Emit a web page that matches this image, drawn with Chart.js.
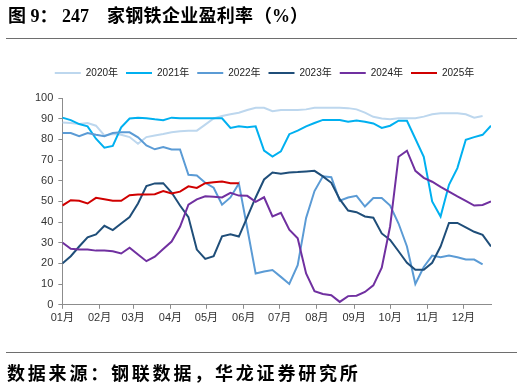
<!DOCTYPE html>
<html>
<head>
<meta charset="utf-8">
<script src="https://cdn.jsdelivr.net/npm/chart.js@4.4.1/dist/chart.umd.min.js"></script>
<style>
  html, body { margin: 0; padding: 0; background: #fff; }
  body { width: 527px; height: 392px; position: relative; overflow: hidden; }
  #title { position: absolute; left: 0; top: 6px; width: 527px; height: 22px; font: bold 18px "Liberation Serif", "Noto Sans CJK SC", serif; color: #000; white-space: pre; line-height: 20px; }
  #title span { position: absolute; top: 0; }
  .rule { position: absolute; left: 6px; width: 511px; height: 1.5px; background: #6e6e6e; }
  #footer { position: absolute; left: 7px; top: 361px; font: bold 18px "Noto Sans CJK SC", sans-serif; color: #000; letter-spacing: 2.8px; line-height: 22px; white-space: pre; }
  canvas { position: absolute; left: 0; top: 0; }
</style>
</head>
<body>
<canvas id="c" width="527" height="392"></canvas>
<div id="title"><span style="left:8px">图 9：</span><span style="left:62px">247 </span><span style="left:107px;letter-spacing:0.3px">家钢铁企业盈利率</span><span style="left:254px">（%）</span></div>
<div class="rule" style="top:37.5px"></div>
<div class="rule" style="top:351.5px"></div>
<div id="footer">数据来源：钢联数据，华龙证券研究所</div>
<script>
// x categories: day of year of each weekly observation
const days = [0,7,14,21,28,35,42,49,56,63,70,77,84,91,98,105,112,119,126,133,140,147,154,161,168,175,182,189,196,203,210,217,224,231,238,245,252,259,266,273,280,287,294,301,308,315,322,329,336,343,350,357];
// month tick positions (day of year) and labels
const monthDays = [0,31,59,90,120,151,181,212,243,273,304,334];
const monthLabels = ['01月','02月','03月','04月','05月','06月','07月','08月','09月','10月','11月','12月'];

const seriesNames = ['2020年','2021年','2022年','2023年','2024年','2025年'];
const colors = ['#BDD7EE','#00B0F0','#5B9BD5','#1F4E79','#7030A0','#D00000'];

const y2020 = [88.2,87.9,87.4,87.9,86.6,81.9,82.6,82.2,81.1,77.9,81.1,81.9,82.6,83.4,83.9,84.2,84.2,87.1,90.1,91.3,92.1,92.9,94.2,95.3,95.3,93.6,94.2,94.2,94.2,94.5,95.3,95.3,95.3,95.3,95.1,94.5,92.9,90.9,90.1,89.7,90.2,90.2,90.2,91.0,92.1,92.6,92.6,92.6,92.1,90.5,91.3];
const y2021 = [90.5,89.3,87.4,86.3,80.3,76.0,76.8,85.8,90.1,90.5,90.2,89.7,89.3,90.5,90.2,90.2,90.2,90.2,90.2,90.2,85.5,86.3,85.8,86.3,74.6,71.7,74.2,82.5,84.2,86.3,87.9,89.4,89.4,89.4,88.5,89.1,88.5,87.7,85.5,86.6,89.0,89.0,80.3,71.6,50.0,42.7,58.0,66.1,79.8,81.1,82.2,86.6];
const y2022 = [83.1,83.1,81.5,83.1,82.2,81.5,83.1,83.4,83.4,81.0,77.1,75.2,76.3,75.1,75.1,62.9,62.5,59.0,56.6,48.4,51.9,58.7,37.0,15.1,16.1,16.8,13.5,10.1,19.2,42.0,55.0,62.1,61.7,50.3,51.9,52.7,47.5,51.6,51.6,48.0,39.3,28.2,10.1,18.3,23.8,23.0,23.8,23.0,21.9,21.9,19.6];
const y2023 = [20.0,23.5,28.2,32.6,34.0,38.2,36.1,39.3,42.4,49.0,57.4,58.7,58.8,54.3,48.0,42.4,26.7,22.2,23.5,33.1,34.1,33.0,42.4,51.9,60.6,64.0,63.4,64.0,64.2,64.5,64.8,62.1,59.0,51.1,45.6,44.8,42.7,42.1,34.5,31.4,25.9,20.3,16.9,16.9,20.3,28.2,39.6,39.6,37.4,35.3,33.8,28.2];
const y2024 = [30.1,27.1,26.8,26.7,26.2,26.2,25.9,24.8,27.6,24.3,21.1,23.3,27.0,30.6,37.7,48.4,51.0,52.5,52.2,51.9,54.1,52.8,52.7,49.8,52.0,42.7,44.5,36.3,32.2,15.2,6.6,5.2,4.6,1.4,4.2,4.4,6.2,9.4,18.0,38.0,71.6,74.5,64.8,61.4,59.5,57.0,54.7,52.4,50.3,48.0,48.3,50.0];
const y2025 = [48.0,50.6,50.3,49.0,51.7,51.0,50.3,50.3,53.0,53.3,53.3,53.5,55.0,53.8,54.7,57.3,56.5,58.8,59.3,59.6,58.8,58.8];

const yTicks = [0,10,20,30,40,50,60,70,80,90,100];

const seriesValues = [y2020,y2021,y2022,y2023,y2024,y2025];
const FONT = '"Liberation Sans", Arial, "Noto Sans CJK SC", sans-serif';

const datasets = seriesValues.map((vals, i) => ({
  label: seriesNames[i],
  data: vals,
  borderColor: colors[i],
  backgroundColor: colors[i],
  borderWidth: 2,
  pointRadius: 0,
  tension: 0,
  fill: false,
  order: seriesValues.length - i
}));

const legendTweak = {
  id: 'legendTweak',
  beforeInit(chart) {
    const orig = chart.legend.fit;
    chart.legend.fit = function () { orig.call(chart.legend); this.height += 10; };
  },
  afterUpdate(chart) {
    chart.legend.left += 4;
    chart.legend.right += 4;
  }
};

new Chart(document.getElementById('c'), {
  type: 'line',
  data: { labels: days, datasets },
  options: {
    responsive: false,
    animation: false,
    devicePixelRatio: 1,
    layout: { padding: { top: 60, bottom: 64, left: 30, right: 36 } },
    plugins: {
      tooltip: { enabled: false },
      legend: {
        position: 'top',
        labels: {
          boxWidth: 26,
          boxHeight: 2,
          padding: 8,
          color: '#222',
          font: { size: 10, family: FONT },
          generateLabels: (chart) => chart.data.datasets.map((ds, i) => ({
            text: ds.label, fillStyle: ds.borderColor, strokeStyle: ds.borderColor,
            lineWidth: 0, hidden: false, datasetIndex: i, fontColor: '#222'
          }))
        }
      }
    },
    scales: {
      x: {
        type: 'linear',
        min: 0,
        max: 357,
        afterBuildTicks: (s) => { s.ticks = monthDays.map(v => ({ value: v })); },
        ticks: {
          autoSkip: false,
          maxRotation: 0,
          padding: 3,
          color: '#333',
          font: { size: 11, family: FONT },
          callback: (v) => { const k = monthDays.indexOf(v); return k >= 0 ? monthLabels[k] : ''; }
        },
        grid: { drawOnChartArea: false, drawTicks: true, tickLength: 4, color: '#8c8c8c' },
        border: { display: true, color: '#8c8c8c', width: 1 }
      },
      y: {
        min: 0,
        max: 100,
        afterBuildTicks: (s) => { s.ticks = yTicks.map(v => ({ value: v })); },
        ticks: {
          padding: 5,
          color: '#333',
          font: { size: 11, family: FONT }
        },
        grid: { drawOnChartArea: false, drawTicks: true, tickLength: 4, color: '#8c8c8c' },
        border: { display: true, color: '#8c8c8c', width: 1 }
      }
    }
  },
  plugins: [legendTweak]
});
</script>
</body>
</html>
